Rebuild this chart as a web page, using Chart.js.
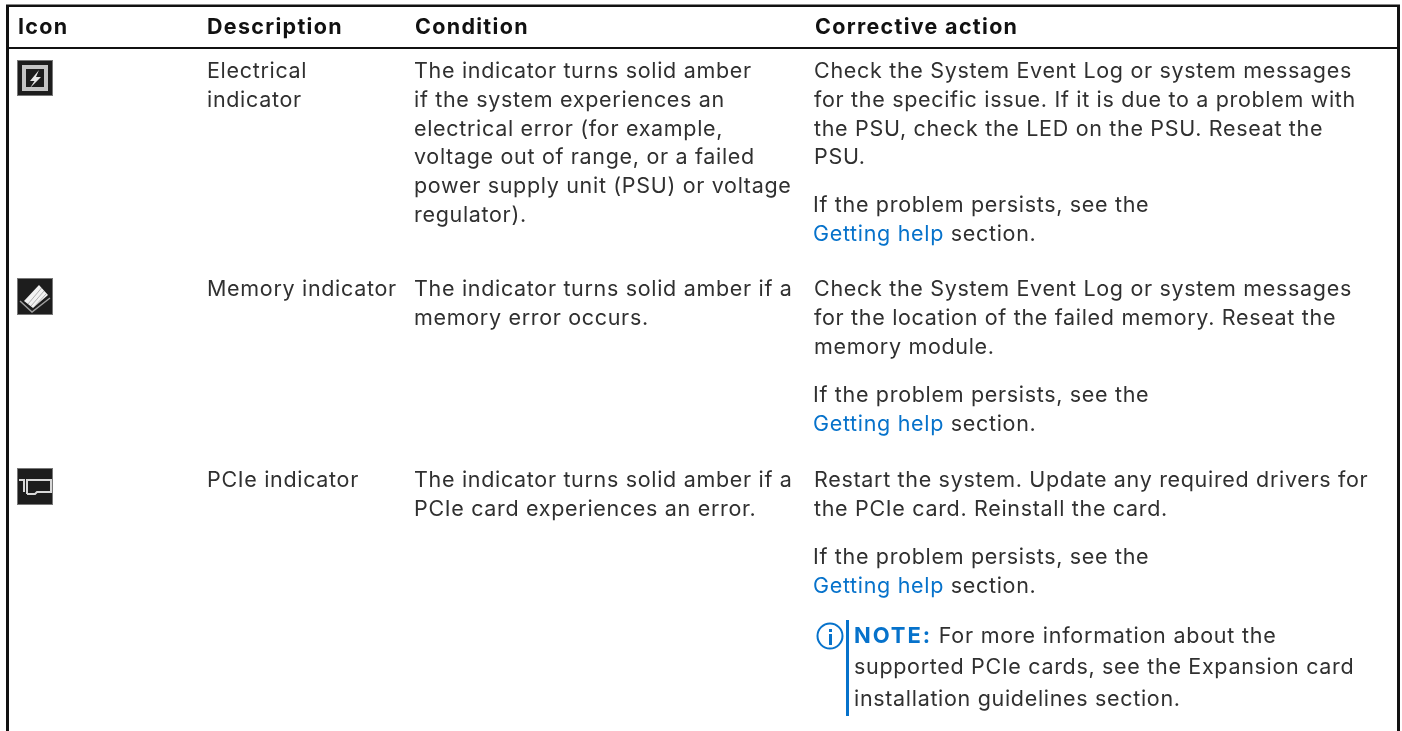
<!DOCTYPE html>
<html><head><meta charset="utf-8">
<script src="https://cdn.jsdelivr.net/npm/chart.js@4"></script>
<style>html,body{margin:0;padding:0;background:#fff;overflow:hidden}canvas{display:block}</style>
</head><body>
<canvas id="c" width="1402" height="731" style="width:1402px;height:731px"></canvas>
<script>
const headers = ["Icon","Description","Condition","Corrective action"];
const descriptions = [["Electrical","indicator"],["Memory indicator"],["PCIe indicator"]];
const conditions = [
 ["The indicator turns solid amber","if the system experiences an","electrical error (for example,","voltage out of range, or a failed","power supply unit (PSU) or voltage","regulator)."],
 ["The indicator turns solid amber if a","memory error occurs."],
 ["The indicator turns solid amber if a","PCIe card experiences an error."]];
const actions = [
 ["Check the System Event Log or system messages","for the specific issue. If it is due to a problem with","the PSU, check the LED on the PSU. Reseat the","PSU."],
 ["Check the System Event Log or system messages","for the location of the failed memory. Reseat the","memory module."],
 ["Restart the system. Update any required drivers for","the PCIe card. Reinstall the card."]];
const helpLines = ["If the problem persists, see the","Getting help"," section."];
const noteLines = ["NOTE:"," For more information about the","supported PCIe cards, see the Expansion card","installation guidelines section."];

const FONT = 'Inter';
const SIZE = 21.5;
const TEXT = '#303030', BLUE = '#0672cb';
const BODY_LS = '0.68px', BOLD_LS = '1.3px';
const tablePlugin = {
 id:'table',
 afterDraw(chart){
  const c = chart.ctx;
  c.save();
  c.textBaseline='alphabetic';
  const t=(s,x,y,o={})=>{c.font=`${o.w||400} ${o.s||SIZE}px ${FONT}`;c.fillStyle=o.c||TEXT;c.letterSpacing=(o.ls||BODY_LS);c.fillText(s,x,y);return c.measureText(s).width;};
  // borders
  c.fillStyle='#111';
  c.fillRect(6,5,3,726);c.fillRect(1397,5,3,726);c.fillRect(6,5,1394,2);c.fillRect(6,47,1394,2);
  c.fillStyle='#888';c.fillRect(6,4,1394,1);
  // headers
  const hx=[18,207,415,815];
  headers.forEach((h,i)=>t(h,hx[i],34,{w:700,c:'#111',ls:BOLD_LS}));
  const Y=[78,296,487], P=28.8;
  descriptions.forEach((r,i)=>r.forEach((s,j)=>t(s,207,Y[i]+j*P)));
  conditions.forEach((r,i)=>r.forEach((s,j)=>t(s,414,Y[i]+j*P)));
  actions.forEach((r,i)=>r.forEach((s,j)=>t(s,814,Y[i]+j*P)));
  [212,402,564].forEach(y=>{
    t(helpLines[0],813,y);
    const w=t(helpLines[1],813,y+29,{c:BLUE});
    t(helpLines[2],813+w,y+29);
  });
  // note
  c.fillStyle=BLUE;c.fillRect(846,620,3,96);
  c.strokeStyle=BLUE;c.lineWidth=2;c.beginPath();c.arc(830,636,12.5,0,Math.PI*2);c.stroke();
  c.fillRect(829,634,3,11);c.fillRect(829,629,3,3);
  const nw=t(noteLines[0],854,642.5,{w:700,c:BLUE,s:22,ls:'1.9px'});
  t(noteLines[1],854+nw,642.5,{ls:'0.78px'});
  t(noteLines[2],854,674);t(noteLines[3],854,706);
  // icons
  const box=(x,y,w,h)=>{c.fillStyle='#1d1d1d';c.fillRect(x,y,w,h);c.strokeStyle='#777';c.lineWidth=1;c.strokeRect(x+.5,y+.5,w-1,h-1);};
  box(17,60,36,36);
  c.strokeStyle='#c4c4c4';c.lineWidth=4;c.strokeRect(24,67,22,22);
  c.fillStyle='#e8e8e8';c.beginPath();c.moveTo(39,70);c.lineTo(30,81);c.lineTo(34.5,81);c.lineTo(30,88);c.lineTo(41,77);c.lineTo(36,77);c.closePath();c.fill();
  box(17,278,36,37);
  c.strokeStyle='#a0a0a0';c.lineWidth=1.5;c.beginPath();c.moveTo(20,301);c.lineTo(32,312);c.lineTo(50,298);c.stroke();
  c.fillStyle='#f2f2f2';c.beginPath();c.moveTo(24,301);c.lineTo(39,285);c.lineTo(48,295);c.lineTo(33,308);c.closePath();c.fill();
  c.strokeStyle='#a8a8a8';c.lineWidth=.9;
  [[28,304,41.5,288],[31,306,44,291],[34,307,46.5,293.5]].forEach(a=>{c.beginPath();c.moveTo(a[0],a[1]);c.lineTo(a[2],a[3]);c.stroke();});
  box(17,468,36,37);
  c.strokeStyle='#d8d8d8';c.lineWidth=2;c.beginPath();c.moveTo(19,480);c.lineTo(24,480);c.lineTo(24,492);c.moveTo(27,494);c.lineTo(27,480);c.lineTo(51,480);c.lineTo(51,492);c.lineTo(37,492);c.lineTo(35,494);c.lineTo(27,494);c.stroke();
  c.restore();
 }
};
new Chart(document.getElementById('c'),{
 type:'scatter',
 data:{datasets:[{data:[]}]},
 options:{responsive:false,animation:false,maintainAspectRatio:false,
  plugins:{legend:{display:false},tooltip:{enabled:false}},
  scales:{x:{display:false},y:{display:false}}},
 plugins:[tablePlugin]
});
</script>
</body></html>
